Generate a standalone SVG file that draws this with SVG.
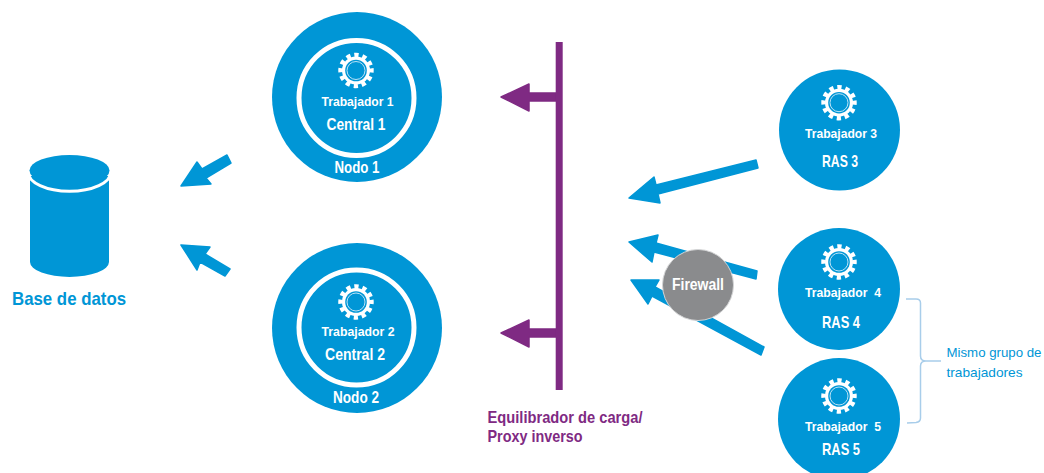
<svg xmlns="http://www.w3.org/2000/svg" width="1044" height="473" viewBox="0 0 1044 473">
<style>
text{font-family:"Liberation Sans",Arial,sans-serif;font-weight:700;text-anchor:middle;fill:#fff;}
.b{fill:#0096d6;}
.s{font-size:12.5px;}
.m{font-size:17px;}
.arrow{fill:#0096d6;stroke:#0096d6;stroke-width:1.5;stroke-linejoin:round;}
.pa{fill:#7f2a83;stroke:#7f2a83;stroke-width:1.5;stroke-linejoin:round;}
.pt{fill:#7f2a83;font-size:17px;text-anchor:start;}
.bt{fill:#0096d6;font-size:18.5px;text-anchor:start;}
.lt{fill:#0096d6;font-size:13px;font-weight:400;text-anchor:start;}
</style>
<defs>
<g id="gear">
<circle r="15.5" fill="none" stroke="#fff" stroke-width="4.5" stroke-dasharray="4.2 3.916" transform="rotate(-7.8)"/>
<circle r="14" fill="#fff"/>
<circle r="10.8" fill="#0096d6"/>
<circle r="9" fill="none" stroke="#cfeaf8" stroke-width="0.9"/>
</g>
</defs>
<rect width="1044" height="473" fill="#fff"/>
<g id="connectors">
<path class="arrow" d="M181,186 L197,162 L202,169 L227,155 L231,163 L206,178 L211,184 Z"/>
<path class="arrow" d="M181,245 L210,247 L205,254 L230,269 L225,276 L200,262 L197,270 Z"/>
<path class="pa" d="M501,97 L529,84 V93 H556 V101 H529 V111 Z"/>
<path class="pa" d="M501,333 L529,320 V329 H556 V337 H529 V347 Z"/>
<rect x="555.7" y="42" width="7" height="348" fill="#7f2a83"/>
<path class="arrow" d="M629,198 L654,177 L656,185 L756,160 L758,168 L658,194 L660,203 Z"/>
<path class="arrow" d="M629,242 L658,235 L656,243 L757,271 L756,279 L654,252 L652,262 Z"/>
<path class="arrow" d="M631,280 L659,280 L655,287 L764,347 L761,355 L652,296 L648,304 Z"/>
<path d="M906,299 H916 Q920.5,299 920.5,303 V356 Q920.5,361 926,361 H941 H926 Q920.5,361 920.5,366 V418 Q920.5,422 916,422.5 L907,423" fill="none" stroke="#a8cdea" stroke-width="1.5"/>
</g>
<g id="database">
<path class="b" d="M30,176 V262 A39.5,15 0 0 0 109,262 V176 Z"/>
<path d="M28,172 A41,19 0 0 0 111,172" fill="none" stroke="#fff" stroke-width="3"/>
<ellipse class="b" cx="69.5" cy="170.5" rx="40" ry="15.5"/>
<text class="bt" x="12" y="305" textLength="114" lengthAdjust="spacingAndGlyphs">Base de datos</text>
</g>
<g id="nodo1">
<circle class="b" cx="357" cy="97" r="85"/>
<circle cx="356.5" cy="98" r="57.5" fill="none" stroke="#fff" stroke-width="5"/>
<use href="#gear" x="356" y="70.5"/>
<text class="s" x="357.5" y="106" textLength="72" lengthAdjust="spacingAndGlyphs">Trabajador 1</text>
<text class="m" x="356" y="130" textLength="59" lengthAdjust="spacingAndGlyphs">Central 1</text>
<text class="m" x="357" y="173" textLength="45" lengthAdjust="spacingAndGlyphs">Nodo 1</text>
</g>
<g id="nodo2">
<circle class="b" cx="357" cy="328" r="85"/>
<circle cx="356.5" cy="327.5" r="57.5" fill="none" stroke="#fff" stroke-width="5"/>
<use href="#gear" x="356" y="302"/>
<text class="s" x="358" y="336" textLength="73" lengthAdjust="spacingAndGlyphs">Trabajador 2</text>
<text class="m" x="355" y="360" textLength="60" lengthAdjust="spacingAndGlyphs">Central 2</text>
<text class="m" x="356" y="403" textLength="46" lengthAdjust="spacingAndGlyphs">Nodo 2</text>
</g>
<g id="ras3">
<circle class="b" cx="839.5" cy="130" r="60.5"/>
<use href="#gear" x="839" y="102.7"/>
<text class="s" x="841" y="138" textLength="72" lengthAdjust="spacingAndGlyphs">Trabajador 3</text>
<text class="m" x="840" y="167" textLength="36" lengthAdjust="spacingAndGlyphs">RAS 3</text>
</g>
<g id="ras4">
<circle class="b" cx="839" cy="289" r="61"/>
<use href="#gear" x="839" y="262"/>
<text class="s" x="843" y="297" textLength="76" lengthAdjust="spacingAndGlyphs" xml:space="preserve">Trabajador  4</text>
<text class="m" x="841" y="328" textLength="38" lengthAdjust="spacingAndGlyphs">RAS 4</text>
</g>
<g id="ras5">
<circle class="b" cx="839" cy="419" r="61"/>
<use href="#gear" x="839" y="396"/>
<text class="s" x="843" y="431" textLength="76" lengthAdjust="spacingAndGlyphs" xml:space="preserve">Trabajador  5</text>
<text class="m" x="841" y="455" textLength="38" lengthAdjust="spacingAndGlyphs">RAS 5</text>
</g>
<g id="firewall">
<circle cx="698" cy="285" r="35.5" fill="#8a8b8d" stroke="#d4d5d6" stroke-width="1"/>
<text x="698" y="290" font-size="16" textLength="52" lengthAdjust="spacingAndGlyphs">Firewall</text>
</g>
<g id="balancer-label">
<text class="pt" x="487.5" y="423" textLength="155" lengthAdjust="spacingAndGlyphs">Equilibrador de carga/</text>
<text class="pt" x="487.5" y="442" textLength="95" lengthAdjust="spacingAndGlyphs">Proxy inverso</text>
</g>
<g id="group-label">
<text class="lt" x="946.5" y="357" textLength="95" lengthAdjust="spacingAndGlyphs">Mismo grupo de</text>
<text class="lt" x="946.5" y="377" textLength="76" lengthAdjust="spacingAndGlyphs">trabajadores</text>
</g>
</svg>
